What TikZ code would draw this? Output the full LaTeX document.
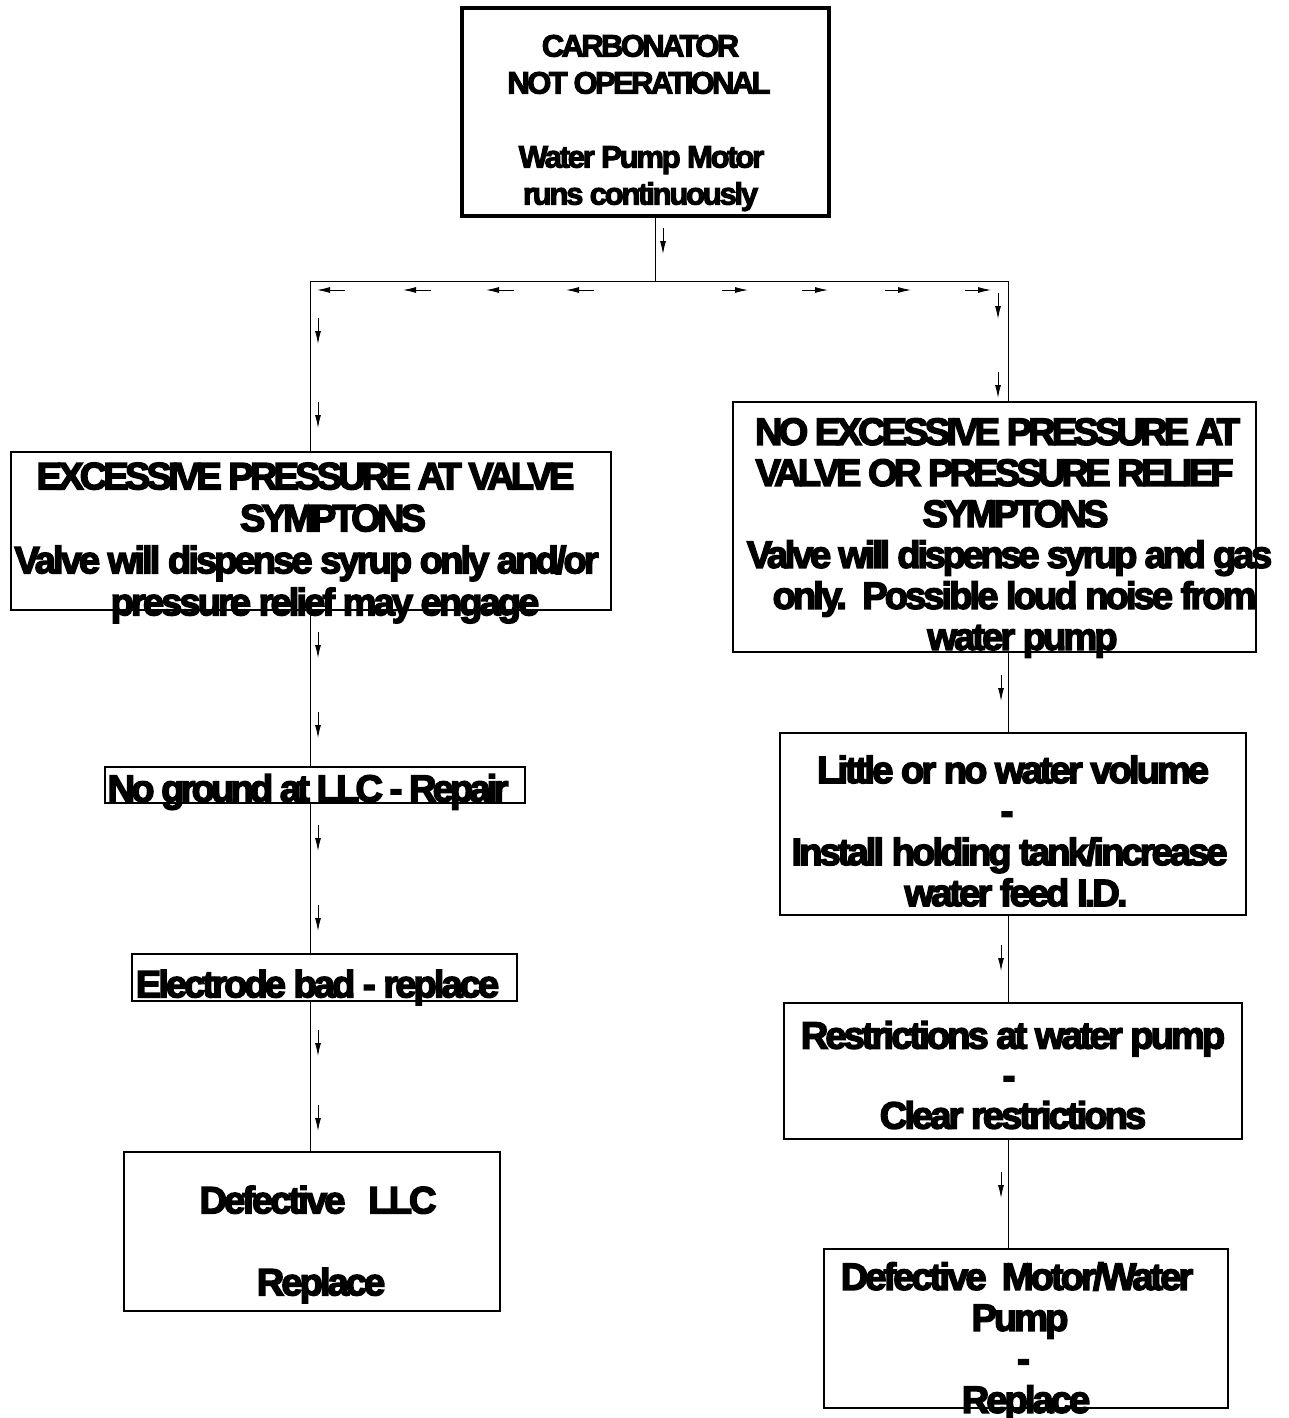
\documentclass[tikz,border=0pt]{standalone}
\usepackage{fontspec}
\setmainfont{Liberation Sans}[LetterSpace=-7.6, BoldFeatures={FakeBold=4}]
\newfontfamily\capf{Liberation Sans}[LetterSpace=-10, BoldFeatures={FakeBold=4}]
\newfontfamily\midf{Liberation Sans}[LetterSpace=-8.5, BoldFeatures={FakeBold=4}]
\newfontfamily\topcapf{Liberation Sans}[LetterSpace=-8.5, BoldFeatures={FakeBold=3.5}]
\newfontfamily\toplowf{Liberation Sans}[LetterSpace=-7.2, BoldFeatures={FakeBold=3.5}]
\usetikzlibrary{arrows.meta}
% #1 width, #2 height, #3 font size, #4 line skip, #5 twice the downward shift, #6 text
\newcommand{\bxt}[6]{\parbox[c][#2pt][c]{#1pt}{\fontsize{#3pt}{#4pt}\selectfont\bfseries\centering
\vspace*{#5pt}#6\par}}
% one centred line that never wraps, moved left (\shl) or right (\shr) by #1
\newcommand{\ctl}[1]{\makebox[0pt][c]{#1}}
\newcommand{\shl}[2]{\makebox[0pt][c]{#2}\hspace*{#1pt}\hspace*{#1pt}}
\newcommand{\shr}[2]{\hspace*{#1pt}\hspace*{#1pt}\makebox[0pt][c]{#2}}
\tikzset{
  box/.style={draw, line width=1.4pt, inner sep=0pt},
  topbox/.style={draw, line width=4pt, inner sep=0pt},
  conn/.style={line width=0.9pt},
  sarrow/.style={line width=0.9pt, -{Latex[length=13pt,width=6pt]}},
}
\begin{document}
\begin{tikzpicture}[x=1pt,y=-1pt]
\useasboundingbox (0,0) rectangle (1289,1418);
% boxes
\node[topbox] (t) at (645.5,112) {\bxt{367}{208}{31}{37}{22}{\topcapf\shl{10}{CARBONATOR}\\\shl{13}{NOT OPERATIONAL}\\[37pt]\toplowf\shl{8}{Water Pump Motor}\\\shl{5}{runs continuously}}};
\node[box] (b1) at (311,531) {\bxt{600}{158}{38}{42}{24}{{\capf\shl{11}{EXCESSIVE PRESSURE AT VALVE}}\\{\capf\shr{22}{SYMPTONS}}\\\shl{9}{Valve will dispense syrup only and/or}\\\shr{14}{pressure relief may engage}}};
\node[box] (b2) at (315,785) {\bxt{420}{36}{38}{42}{14}{\capf\shl{7}{No ground at LLC - Repair}}};
\node[box] (b3) at (324.5,977.5) {\bxt{385}{47}{38}{42}{20}{\shl{7}{Electrode bad - replace}}};
\node[box] (b4) at (312,1231.5) {\bxt{376}{159}{38}{41}{26}{\shr{6}{Defective\ \ \ LLC}\\[41pt]\shr{9}{Replace}}};
\node[box] (r1) at (994.5,527) {\bxt{523}{250}{38}{41}{22}{{\capf\shr{3}{NO EXCESSIVE PRESSURE AT}}\\{\capf\ctl{VALVE OR PRESSURE RELIEF}}\\{\capf\shr{21}{SYMPTONS}}\\{\midf\shr{15}{Valve will dispense syrup and gas}}\\\shr{20}{only.\ \ Possible loud noise from}\\\shr{28}{water pump}}};
\node[box] (r2) at (1013,824) {\bxt{466}{182}{38}{41}{14}{\ctl{Little or no water volume}\\\shl{12}{-}\\\shl{7}{Install holding tank/increase}\\\shr{3}{water feed I.D.}}};
\node[box] (r3) at (1013,1071) {\bxt{458}{136}{38}{40}{8}{\ctl{Restrictions at water pump}\\\shl{8}{-}\\\ctl{Clear restrictions}}};
\node[box] (r4) at (1026,1328.5) {\bxt{404}{159}{38}{41}{26}{\shl{18}{Defective\ \ Motor/Water}\\\shl{12}{Pump}\\\shl{5}{-}\\\ctl{Replace}}};
% junction coordinates
\coordinate (jc) at (655,281);
\coordinate (jl) at (310,281);
\coordinate (jr) at (1008,281);
% connectors
\draw[conn] (t.south -| jc) -- (jc);
\draw[conn] (jl) -- (jr);
\draw[conn] (jl) -- (jl |- b1.north);
\draw[conn] (jr) -- (jr |- r1.north);
\draw[conn] (b1.south -| jl) -- (b2.north -| jl);
\draw[conn] (b2.south -| jl) -- (b3.north -| jl);
\draw[conn] (b3.south -| jl) -- (b4.north -| jl);
\draw[conn] (r1.south -| jr) -- (r2.north -| jr);
\draw[conn] (r2.south -| jr) -- (r3.north -| jr);
\draw[conn] (r3.south -| jr) -- (r4.north -| jr);
% small direction marks
\draw[sarrow] (663,228) -- (663,254);
\foreach \x in {345,431,514,594} \draw[sarrow] (\x,290) -- (\x-28,290);
\foreach \x in {722,802,885,965} \draw[sarrow] (\x,290) -- (\x+26,290);
\foreach \y in {293,372} \draw[sarrow] (998,\y) -- (998,\y+26);
\foreach \y in {318,402,632,712,825,905,1030,1105} \draw[sarrow] (318,\y) -- (318,\y+26);
\foreach \y in {675,945,1172} \draw[sarrow] (1001,\y) -- (1001,\y+26);
\end{tikzpicture}
\end{document}
